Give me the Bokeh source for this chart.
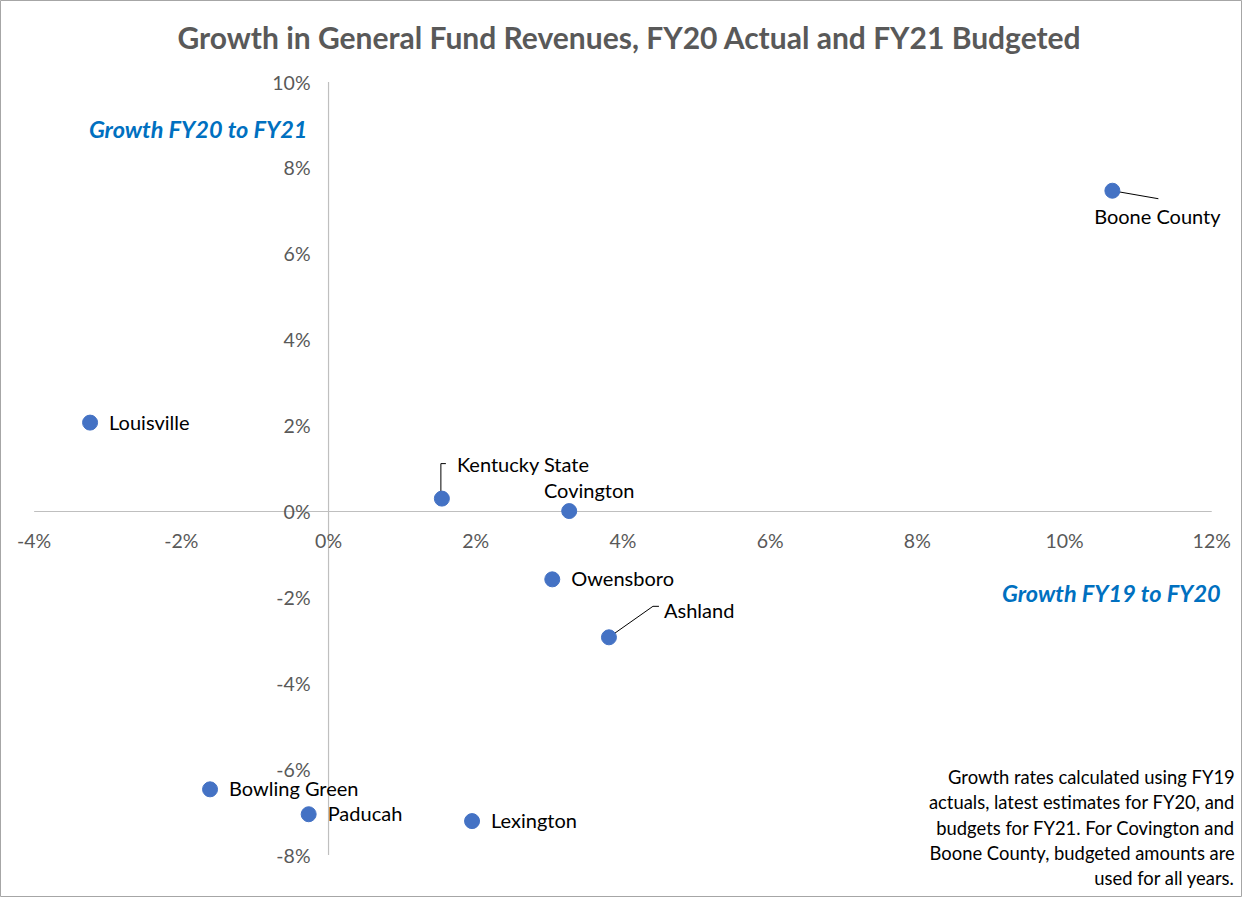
from bokeh.plotting import figure
from bokeh.models import Range1d
from bokeh.core.properties import value
from bokeh.embed import file_html
from bokeh.resources import INLINE

# ---------------- data ----------------
cities = ["Boone County", "Louisville", "Kentucky State", "Covington", "Owensboro",
          "Ashland", "Bowling Green", "Paducah", "Lexington"]
growth_fy19_to_fy20 = [10.65, -3.24, 1.54, 3.27, 3.04, 3.81, -1.61, -0.27, 1.95]
growth_fy20_to_fy21 = [7.47, 2.07, 0.30, 0.01, -1.58, -2.93, -6.47, -7.05, -7.21]

x_ticks = [-4, -2, 0, 2, 4, 6, 8, 10, 12]
y_ticks = [-8, -6, -4, -2, 0, 2, 4, 6, 8, 10]
x_tick_labels = [f"{t}%" for t in x_ticks]
y_tick_labels = [f"{t}%" for t in y_ticks]

title_text = "Growth in General Fund Revenues, FY20 Actual and FY21 Budgeted"
x_title = "Growth FY19 to FY20"
y_title = "Growth FY20 to FY21"
note_lines = ["Growth rates calculated using FY19",
              "actuals, latest estimates for FY20, and",
              "budgets for FY21. For Covington and",
              "Boone County, budgeted amounts are",
              "used for all years."]

# ---------------- layout (screen-pixel offsets, styles) ----------------
W, H = 1242, 897
X0, X1 = -4.457, 12.418
Y0, Y1 = -8.989, 11.90
px_x = W / (X1 - X0)
px_y = H / (Y1 - Y0)

# label offsets (dx, dy in px, align) per city
label_layout = {
    "Boone County": (45, 25, "center"),
    "Louisville": (19, -1, "left"),
    "Kentucky State": (15, -35, "left"),
    "Covington": (20, -21, "center"),
    "Owensboro": (19, -1, "left"),
    "Ashland": (55, -27, "left"),
    "Bowling Green": (19, -1, "left"),
    "Paducah": (19, -1, "left"),
    "Lexington": (19, -1, "left"),
}
# leader line paths in px offsets from the dot
leader_layout = {
    "Kentucky State": [(-1, -6), (-1, -35), (4, -35)],
    "Ashland": [(0, 0), (44, -31), (50, -31)],
    "Boone County": [(0, 0), (46, 8)],
}

FONT = "Lato"
GRAY_TXT = "#595959"
AXIS_GRAY = "#BFBFBF"
BLUE = "#4472C4"
TITLE_BLUE = "#0070C0"

p = figure(width=W, height=H, output_backend="svg", toolbar_location=None,
           x_range=Range1d(X0, X1), y_range=Range1d(Y0, Y1),
           x_axis_type=None, y_axis_type=None, min_border=0,
           background_fill_color="white", border_fill_color="white")
p.xgrid.visible = False
p.ygrid.visible = False
p.outline_line_color = "#A6A6A6"
p.outline_line_width = 1

# axis lines crossing at zero
p.segment(x0=[min(x_ticks), 0], y0=[0, min(y_ticks)],
          x1=[max(x_ticks), 0], y1=[0, max(y_ticks)],
          line_color=AXIS_GRAY, line_width=1.2)

# tick labels
p.text(x=x_ticks, y=[0] * len(x_ticks), text=x_tick_labels, y_offset=29,
       text_align="center", text_baseline="middle", text_font=value(FONT),
       text_font_size="19.5px", text_color=GRAY_TXT)
p.text(x=[0] * len(y_ticks), y=y_ticks, text=y_tick_labels, x_offset=-18,
       text_align="right", text_baseline="middle", text_font=value(FONT),
       text_font_size="19.5px", text_color=GRAY_TXT)

# leader lines
xs, ys = [], []
for c, x, y in zip(cities, growth_fy19_to_fy20, growth_fy20_to_fy21):
    if c in leader_layout:
        pts = leader_layout[c]
        xs.append([x + dx / px_x for dx, dy in pts])
        ys.append([y - dy / px_y for dx, dy in pts])
p.multi_line(xs=xs, ys=ys, line_color="black", line_width=1)

# points
p.scatter(x=growth_fy19_to_fy20, y=growth_fy20_to_fy21, size=15,
          fill_color=BLUE, line_color=BLUE)

# point labels
for align in ("left", "center"):
    lx, ly, lt, ox, oy = [], [], [], [], []
    for c, x, y in zip(cities, growth_fy19_to_fy20, growth_fy20_to_fy21):
        dx, dy, a = label_layout[c]
        if a != align:
            continue
        lx.append(x); ly.append(y); lt.append(c); ox.append(dx); oy.append(dy)
    p.text(x=lx, y=ly, text=lt, x_offset=ox, y_offset=oy, text_align=align,
           text_baseline="middle", text_font=value(FONT), text_font_size="20px",
           text_color="black")

# title
p.text(x=[(X0 + X1) / 2 + 8 / px_x], y=[Y1], text=[title_text], y_offset=36,
       text_align="center", text_baseline="middle", text_font=value(FONT),
       text_font_size="30px", text_font_style="bold", text_color=GRAY_TXT)

# axis titles
p.text(x=[0], y=[max(y_ticks)], text=[y_title], x_offset=-21, y_offset=47,
       text_align="right", text_baseline="middle", text_font=value(FONT),
       text_font_size="23.5px", text_font_style="bold italic", text_color=TITLE_BLUE)
p.text(x=[max(x_ticks)], y=[0], text=[x_title], x_offset=9, y_offset=81,
       text_align="right", text_baseline="middle", text_font=value(FONT),
       text_font_size="23.5px", text_font_style="bold italic", text_color=TITLE_BLUE)

# note
p.text(x=[max(x_ticks)] * len(note_lines), y=[-6] * len(note_lines), text=note_lines,
       x_offset=23, y_offset=[8 + 25.3 * i for i in range(len(note_lines))],
       text_align="right", text_baseline="middle", text_font=value(FONT),
       text_font_size="18.4px", text_color="black")

open("out.html", "w").write(file_html(p, INLINE))
